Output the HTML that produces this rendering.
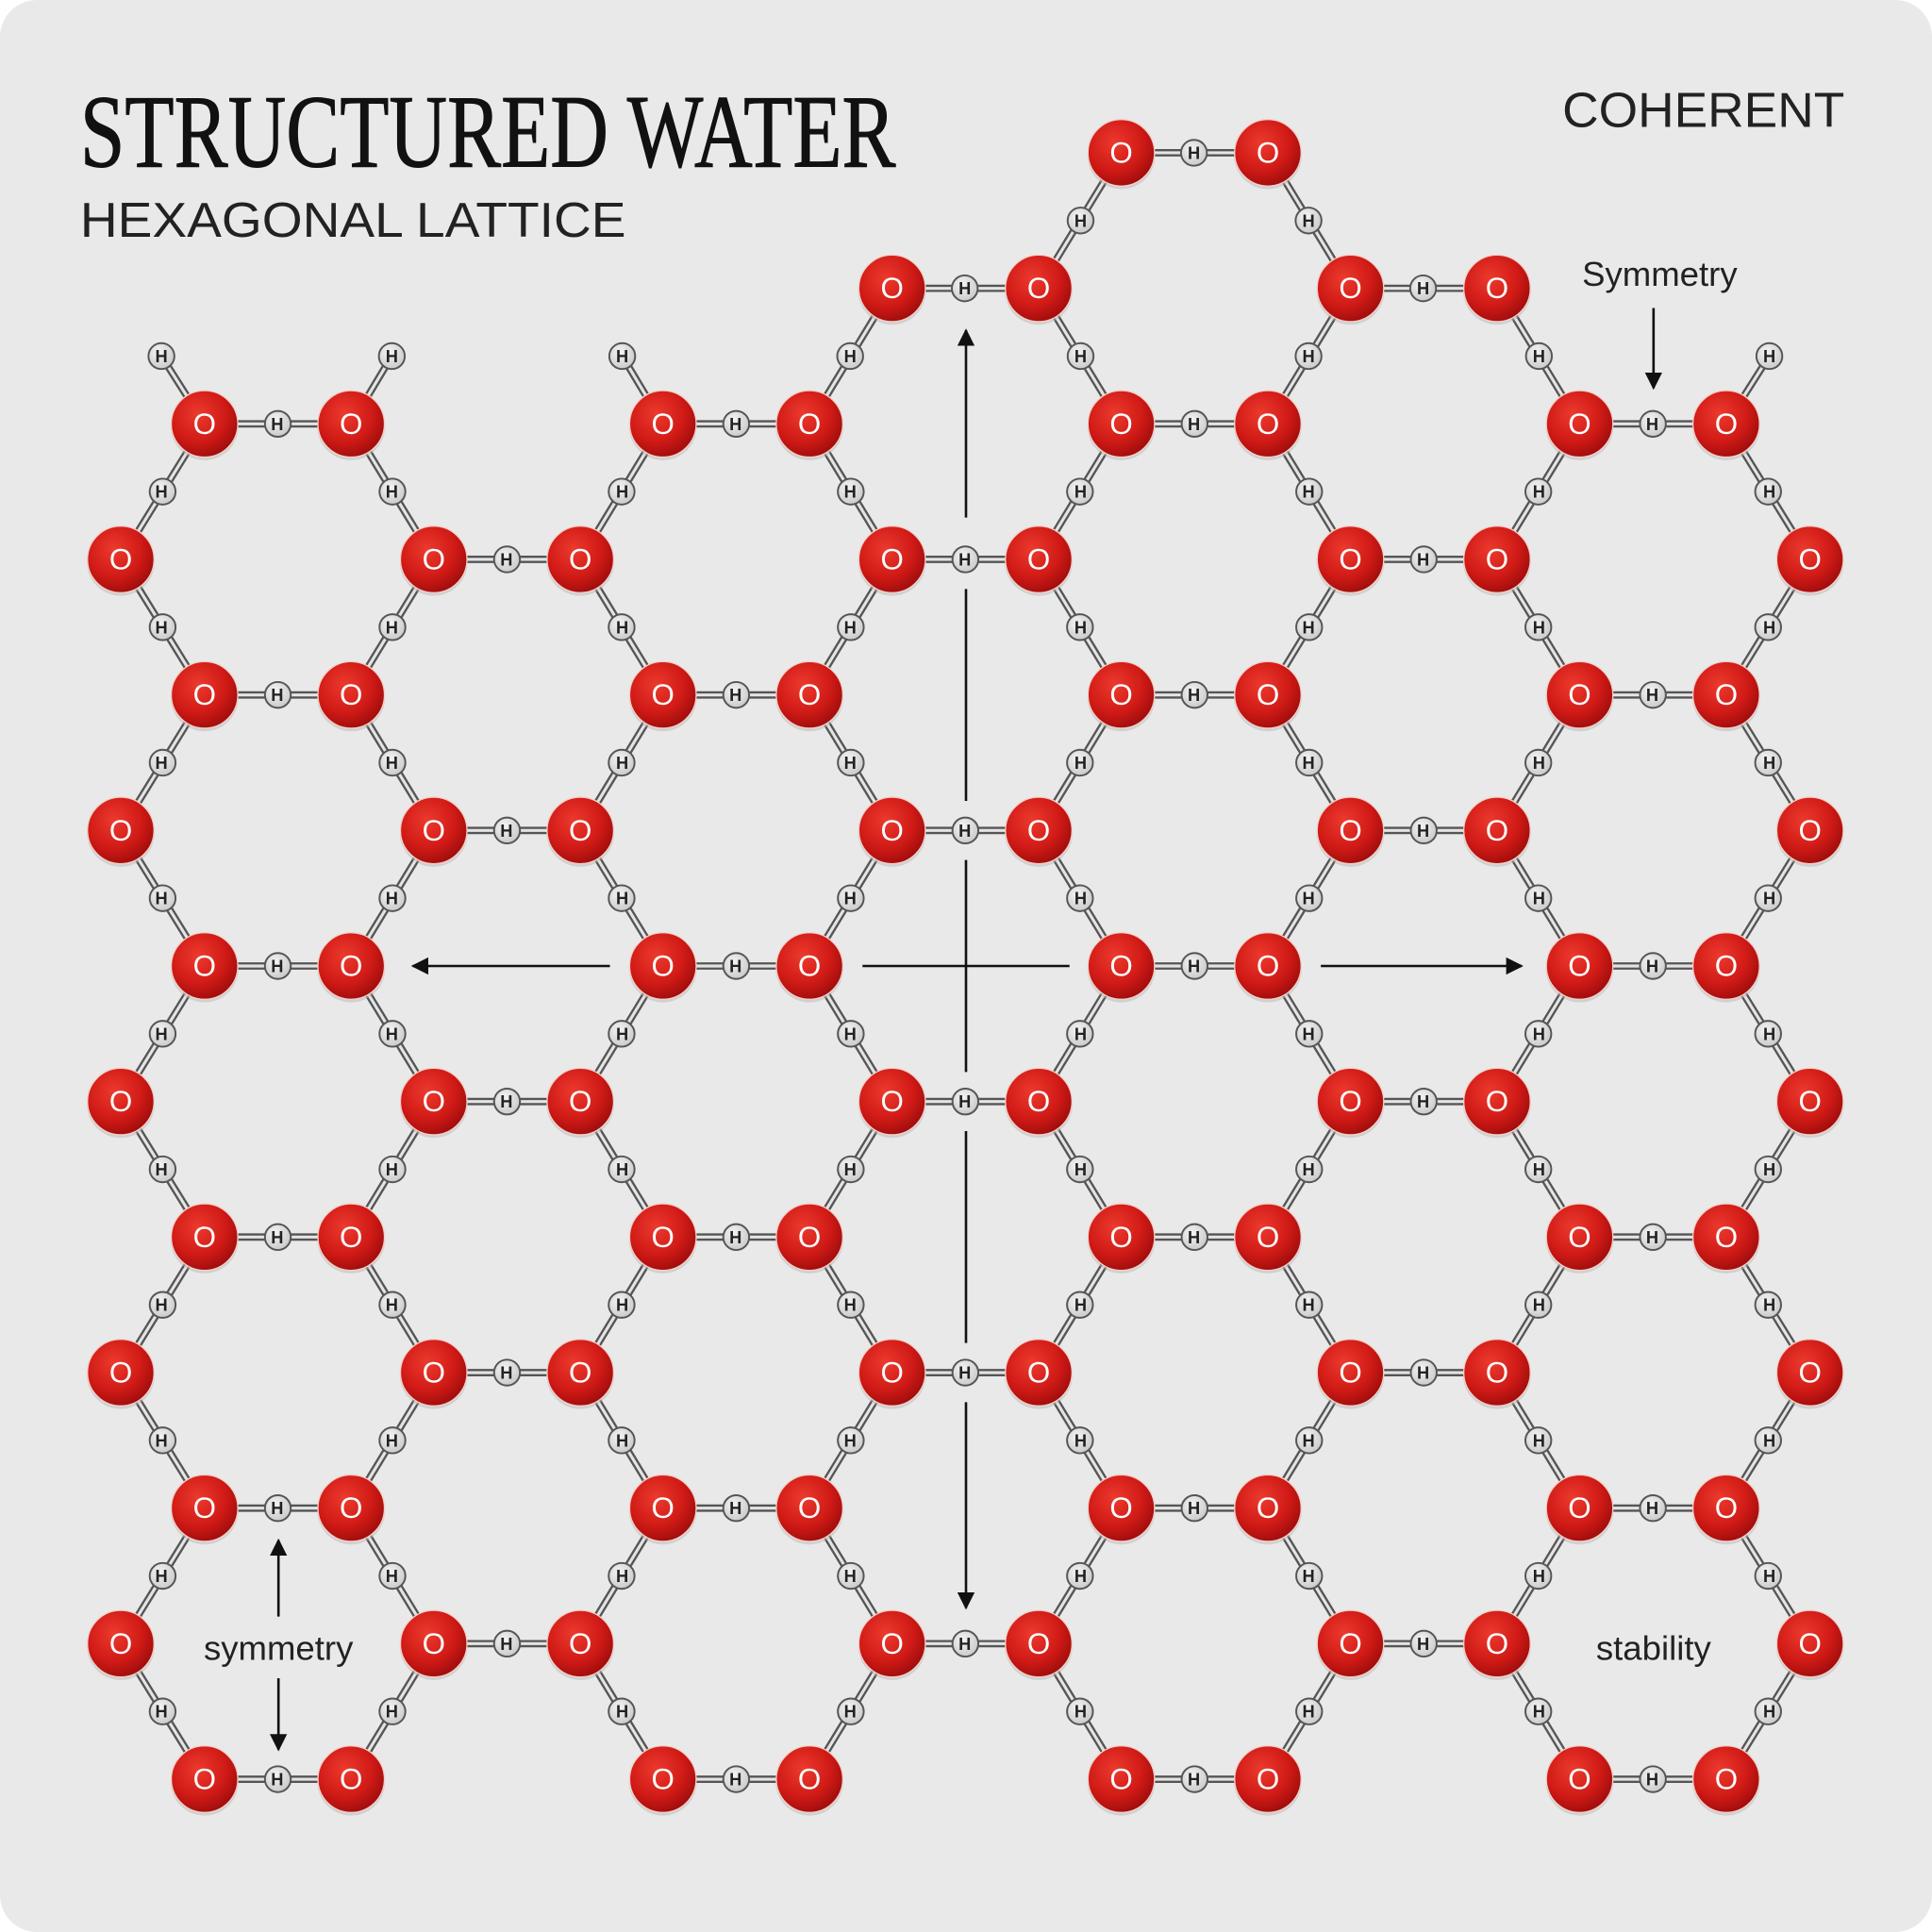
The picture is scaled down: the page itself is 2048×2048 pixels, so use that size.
<!DOCTYPE html>
<html><head><meta charset="utf-8"><style>
html,body{margin:0;padding:0;background:#fff}
svg{display:block}
</style></head><body>
<svg id="s" width="2048" height="2048" viewBox="0 0 1568 1568" xmlns="http://www.w3.org/2000/svg">
<defs>
<radialGradient id="rg" cx="0.4" cy="0.35" r="0.7">
<stop offset="0" stop-color="#ec3a2e"/><stop offset="0.6" stop-color="#d01a16"/><stop offset="1" stop-color="#9a0c0c"/>
</radialGradient>
<radialGradient id="hg" cx="0.4" cy="0.35" r="0.7">
<stop offset="0" stop-color="#f4f4f4"/><stop offset="1" stop-color="#c8c8c8"/>
</radialGradient>
<marker id="ah" viewBox="0 0 10 10" refX="9" refY="5" markerWidth="7" markerHeight="7" orient="auto-start-reverse">
<path d="M0,0 L10,5 L0,10 z" fill="#111"/></marker>
</defs>
<rect x="0" y="0" width="1568" height="1568" rx="30" fill="#e9e9e9"/>
<g id="arrows" stroke="#111" stroke-width="2" fill="none">
<line x1="784" y1="420" x2="784" y2="268" marker-end="url(#ah)"/>
<line x1="784" y1="478" x2="784" y2="650"/>
<line x1="784" y1="698" x2="784" y2="870"/>
<line x1="784" y1="918" x2="784" y2="1090"/>
<line x1="784" y1="1138" x2="784" y2="1305" marker-end="url(#ah)"/>
<line x1="495" y1="784" x2="335" y2="784" marker-end="url(#ah)"/>
<line x1="700" y1="784" x2="868" y2="784"/>
<line x1="1072" y1="784" x2="1235" y2="784" marker-end="url(#ah)"/>
<line x1="1342" y1="250" x2="1342" y2="315" marker-end="url(#ah)"/>
<line x1="226" y1="1312" x2="226" y2="1250" marker-end="url(#ah)"/>
<line x1="226" y1="1362" x2="226" y2="1420" marker-end="url(#ah)"/>
</g>
<g id="bonds"></g>
<g id="atoms"></g>
<text x="65" y="135" font-family="Liberation Serif, serif" font-size="84" textLength="662" lengthAdjust="spacingAndGlyphs" fill="#111" stroke="#111" stroke-width="0.8">STRUCTURED WATER</text>
<text x="65" y="192" font-family="Liberation Sans, sans-serif" font-size="40" textLength="443" lengthAdjust="spacingAndGlyphs" fill="#222">HEXAGONAL LATTICE</text>
<text x="1268" y="103" font-family="Liberation Sans, sans-serif" font-size="40" textLength="229" lengthAdjust="spacingAndGlyphs" fill="#222">COHERENT</text>
<text x="1347" y="232" font-family="Liberation Sans, sans-serif" font-size="28" text-anchor="middle" fill="#222">Symmetry</text>
<text x="226" y="1347" font-family="Liberation Sans, sans-serif" font-size="28" text-anchor="middle" fill="#222">symmetry</text>
<text x="1342" y="1347" font-family="Liberation Sans, sans-serif" font-size="28" text-anchor="middle" fill="#222">stability</text>
<g id="otext" font-family="Liberation Sans, sans-serif" font-size="24" fill="#fff" text-anchor="middle">
<text x="910 1029" y="132">OO</text>
<text x="724 843 1096 1215" y="242">OOOO</text>
<text x="166 285 538 657 910 1029 1282 1401" y="352">OOOOOOOO</text>
<text x="98 352 471 724 843 1096 1215 1469" y="462">OOOOOOOO</text>
<text x="166 285 538 657 910 1029 1282 1401" y="572">OOOOOOOO</text>
<text x="98 352 471 724 843 1096 1215 1469" y="682">OOOOOOOO</text>
<text x="166 285 538 657 910 1029 1282 1401" y="792">OOOOOOOO</text>
<text x="98 352 471 724 843 1096 1215 1469" y="902">OOOOOOOO</text>
<text x="166 285 538 657 910 1029 1282 1401" y="1012">OOOOOOOO</text>
<text x="98 352 471 724 843 1096 1215 1469" y="1122">OOOOOOOO</text>
<text x="166 285 538 657 910 1029 1282 1401" y="1232">OOOOOOOO</text>
<text x="98 352 471 724 843 1096 1215 1469" y="1342">OOOOOOOO</text>
<text x="166 285 538 657 910 1029 1282 1401" y="1452">OOOOOOOO</text>
</g>
<g id="htext" font-family="Liberation Sans, sans-serif" font-size="14" font-weight="bold" fill="#222" text-anchor="middle">
<text x="969" y="129">H</text>
<text x="877 1062" y="184">HH</text>
<text x="783 1155" y="239">HH</text>
<text x="131 318 505 690 877 1062 1249 1436" y="294">HHHHHHHH</text>
<text x="225 597 969 1341" y="349">HHHH</text>
<text x="131 318 505 690 877 1062 1249 1436" y="404">HHHHHHHH</text>
<text x="411 783 1155" y="459">HHH</text>
<text x="131 318 505 690 877 1062 1249 1436" y="514">HHHHHHHH</text>
<text x="225 597 969 1341" y="569">HHHH</text>
<text x="131 318 505 690 877 1062 1249 1436" y="624">HHHHHHHH</text>
<text x="411 783 1155" y="679">HHH</text>
<text x="131 318 505 690 877 1062 1249 1436" y="734">HHHHHHHH</text>
<text x="225 597 969 1341" y="789">HHHH</text>
<text x="131 318 505 690 877 1062 1249 1436" y="844">HHHHHHHH</text>
<text x="411 783 1155" y="899">HHH</text>
<text x="131 318 505 690 877 1062 1249 1436" y="954">HHHHHHHH</text>
<text x="225 597 969 1341" y="1009">HHHH</text>
<text x="131 318 505 690 877 1062 1249 1436" y="1064">HHHHHHHH</text>
<text x="411 783 1155" y="1119">HHH</text>
<text x="131 318 505 690 877 1062 1249 1436" y="1174">HHHHHHHH</text>
<text x="225 597 969 1341" y="1229">HHHH</text>
<text x="131 318 505 690 877 1062 1249 1436" y="1284">HHHHHHHH</text>
<text x="411 783 1155" y="1339">HHH</text>
<text x="131 318 505 690 877 1062 1249 1436" y="1394">HHHHHHHH</text>
<text x="225 597 969 1341" y="1449">HHHH</text>
</g>
</svg>
<script>
(function(){
var NS="http://www.w3.org/2000/svg";
var bonds=document.getElementById("bonds"),atoms=document.getElementById("atoms");
var E=[166,285,538,657,910,1029,1282,1401],D=[98,352,471,724,843,1096,1215,1469];
var O=[],B=[],H=[];
function ln(a,b,c,d){B.push([a,b,c,d]);}
O.push([910,124],[1029,124]);ln(910,124,1029,124);H.push([969,124]);
[724,843,1096,1215].forEach(function(x){O.push([x,234]);});
ln(724,234,843,234);ln(1096,234,1215,234);H.push([783,234],[1155,234]);
ln(843,234,910,124);ln(1096,234,1029,124);H.push([877,179],[1062,179]);
var even=[344,564,784,1004,1224,1444],odd=[454,674,894,1114,1334];
even.forEach(function(y){E.forEach(function(x){O.push([x,y]);});
 for(var i=0;i<8;i+=2){ln(E[i],y,E[i+1],y);H.push([(E[i]+E[i+1])/2,y]);}});
odd.forEach(function(y){D.forEach(function(x){O.push([x,y]);});
 for(var i=1;i<7;i+=2){ln(D[i],y,D[i+1],y);H.push([(D[i]+D[i+1])/2,y]);}
 for(var j=0;j<8;j++){[y-110,y+110].forEach(function(yy){ln(D[j],y,E[j],yy);H.push([(D[j]+E[j])/2,(y+yy)/2]);});}});
ln(657,344,724,234);ln(910,344,843,234);ln(1029,344,1096,234);ln(1282,344,1215,234);
ln(166,344,131,289);ln(285,344,318,289);ln(538,344,505,289);ln(1401,344,1436,289);
[131,318,505,690,877,1062,1249,1436].forEach(function(x){H.push([x,289]);});
function el(t,a,p){var e=document.createElementNS(NS,t);for(var k in a)e.setAttribute(k,a[k]);p.appendChild(e);return e;}
B.forEach(function(b){el("line",{x1:b[0],y1:b[1],x2:b[2],y2:b[3],stroke:"#555","stroke-width":6},bonds);});
B.forEach(function(b){el("line",{x1:b[0],y1:b[1],x2:b[2],y2:b[3],stroke:"#e4e4e4","stroke-width":2.4},bonds);});
O.forEach(function(o){el("circle",{cx:o[0],cy:o[1]+2,r:27.5,fill:"#b8b8b8",opacity:0.5},atoms);
 el("circle",{cx:o[0],cy:o[1],r:27,fill:"url(#rg)",stroke:"#f3d0c8","stroke-width":1},atoms);});
H.forEach(function(h){el("circle",{cx:h[0],cy:h[1],r:10.5,fill:"url(#hg)",stroke:"#555","stroke-width":1.5},atoms);});
})();
</script>
</body></html>
